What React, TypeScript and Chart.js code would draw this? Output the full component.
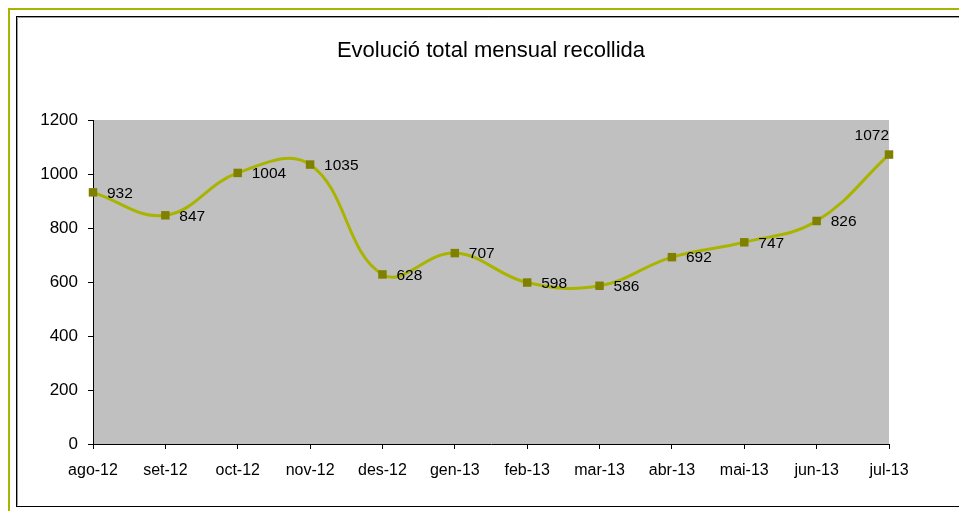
import React, { useEffect, useRef } from "react";
import { Chart, registerables } from "chart.js";

Chart.register(...registerables);

const months = ["ago-12", "set-12", "oct-12", "nov-12", "des-12", "gen-13", "feb-13", "mar-13", "abr-13", "mai-13", "jun-13", "jul-13"];
const totals = [932, 847, 1004, 1035, 628, 707, 598, 586, 692, 747, 826, 1072];
const yTicks = [0, 200, 400, 600, 800, 1000, 1200];
const titleText = "Evolució total mensual recollida";

const FONT = "Arial, 'Liberation Sans', sans-serif";

const framePlugin = {
  id: "frame",
  beforeDraw(chart: any) {
    const ctx = chart.ctx;
    const a = chart.chartArea;
    ctx.save();
    ctx.fillStyle = "#ffffff";
    ctx.fillRect(0, 0, chart.width, chart.height);
    // outer olive frame
    ctx.strokeStyle = "#a8b400";
    ctx.lineWidth = 2;
    ctx.strokeRect(9, 9, chart.width + 20, chart.height + 20);
    // inner black frame
    ctx.strokeStyle = "#000000";
    ctx.lineWidth = 1;
    ctx.strokeRect(16.5, 16.5, chart.width + 20, 490);
    ctx.strokeStyle = "#9a9a9a";
    ctx.beginPath();
    ctx.moveTo(17.5, 505.5);
    ctx.lineTo(17.5, 17.5);
    ctx.lineTo(chart.width + 5, 17.5);
    ctx.stroke();
    // plot background
    ctx.fillStyle = "#c0c0c0";
    ctx.fillRect(a.left, a.top, a.right - a.left, a.bottom - a.top);
    // title
    ctx.fillStyle = "#000000";
    ctx.font = `22px ${FONT}`;
    ctx.textAlign = "center";
    ctx.textBaseline = "alphabetic";
    ctx.fillText(titleText, 491, 57);
    ctx.restore();
  },
};

const labelPlugin = {
  id: "pointLabels",
  afterDatasetsDraw(chart: any) {
    const ctx = chart.ctx;
    const meta = chart.getDatasetMeta(0);
    const data = chart.data.datasets[0].data as number[];
    ctx.save();
    ctx.fillStyle = "#000000";
    ctx.font = `15.5px ${FONT}`;
    meta.data.forEach((pt: any, i: number) => {
      const last = i === data.length - 1;
      ctx.textBaseline = "middle";
      if (last) {
        ctx.textAlign = "right";
        ctx.fillText(String(data[i]), pt.x, pt.y - 19);
      } else {
        ctx.textAlign = "left";
        ctx.fillText(String(data[i]), pt.x + 14, pt.y + 1);
      }
    });
    ctx.restore();
  },
};

export default function App() {
  const ref = useRef<HTMLCanvasElement | null>(null);
  useEffect(() => {
    if (!ref.current) return;
    const chart = new Chart(ref.current, {
      type: "line",
      data: {
        labels: months,
        datasets: [
          {
            data: totals,
            borderColor: "#a8b400",
            borderWidth: 3,
            tension: 0.4,
            pointStyle: "rect",
            pointRadius: 6,
            pointBackgroundColor: "#808000",
            pointBorderColor: "#808000",
            pointBorderWidth: 0,
            fill: false,
          },
        ],
      },
      options: {
        animation: false,
        responsive: false,
        devicePixelRatio: 1,
        layout: { padding: { left: 0, right: 70, top: 120, bottom: 27 } },
        plugins: {
          legend: { display: false },
          title: { display: false },
          tooltip: { enabled: false },
        },
        scales: {
          x: {
            type: "category",
            offset: false,
            afterFit(scale: any) {
              scale.height = 40;
            },
            grid: { drawOnChartArea: false, drawTicks: true, tickLength: 5, color: "#000000" },
            border: { display: true, color: "#000000", width: 1 },
            ticks: { color: "#000000", font: { family: FONT, size: 16 }, padding: 12, maxRotation: 0, autoSkip: false },
          },
          y: {
            min: 0,
            max: 1200,
            afterFit(scale: any) {
              scale.width = 93;
            },
            afterBuildTicks(scale: any) {
              scale.ticks = yTicks.map((v) => ({ value: v }));
            },
            grid: { drawOnChartArea: false, drawTicks: true, tickLength: 5, color: "#000000" },
            border: { display: true, color: "#000000", width: 1 },
            ticks: {
              color: "#000000",
              font: { family: FONT, size: 17 },
              padding: 10,
              callback: (v: any) => String(v),
            },
          },
        },
      },
      plugins: [framePlugin, labelPlugin],
    });
    return () => chart.destroy();
  }, []);
  return (
    <div style={{ position: "fixed", left: 0, top: 0, width: 959, height: 511 }}>
      <canvas ref={ref} width={959} height={511} style={{ width: 959, height: 511, display: "block" }} />
    </div>
  );
}
